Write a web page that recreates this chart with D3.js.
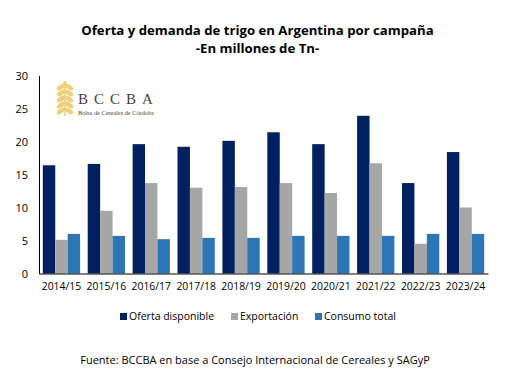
<!DOCTYPE html>
<html>
<head>
<meta charset="utf-8">
<script src="https://cdn.jsdelivr.net/npm/d3@7"></script>
<style>
  body { margin: 0; background: #fff; }
  svg { display: block; font-family: "Open Sans", sans-serif; }
</style>
</head>
<body>
<div class="canvas"></div>
<script>
// Data
const campaigns = ["2014/15", "2015/16", "2016/17", "2017/18", "2018/19", "2019/20", "2020/21", "2021/22", "2022/23", "2023/24"];
const oferta = [16.4, 16.6, 19.6, 19.2, 20.1, 21.4, 19.6, 23.9, 13.7, 18.4];
const exportacion = [5.1, 9.5, 13.7, 13.0, 13.1, 13.7, 12.2, 16.7, 4.5, 10.0];
const consumo = [6.0, 5.7, 5.2, 5.4, 5.4, 5.7, 5.7, 5.7, 6.0, 6.0];
const seriesNames = ["Oferta disponible", "Exportación", "Consumo total"];
const yTicks = [0, 5, 10, 15, 20, 25, 30];

const colors = ["#002060", "#A6A6A6", "#2E75B6"];
const width = 532, height = 370;

const svg = d3.select(".canvas")
    .append("svg")
    .attr("width", width)
    .attr("height", height);

// Scales
const x0 = d3.scaleBand()
    .domain(campaigns)
    .range([39, 488])
    .paddingInner(0.17)
    .paddingOuter(0.085);

const x1 = d3.scaleBand()
    .domain(seriesNames)
    .range([0, x0.bandwidth()]);

const y = d3.scaleLinear()
    .domain([0, 30])
    .range([273.5, 75.5]);

const rows = campaigns.map((c, i) => ({
    campaign: c,
    values: [oferta[i], exportacion[i], consumo[i]]
}));

// Title
svg.append("text")
    .attr("x", 257.5)
    .attr("y", 35)
    .attr("text-anchor", "middle")
    .style("font-size", "13.2px")
    .style("font-weight", "bold")
    .text("Oferta y demanda de trigo en Argentina por campaña");

svg.append("text")
    .attr("x", 257.5)
    .attr("y", 53)
    .attr("text-anchor", "middle")
    .style("font-size", "13.2px")
    .style("font-weight", "bold")
    .text("-En millones de Tn-");

// Logo
const logo = svg.append("g").attr("class", "logo");
const wheat = logo.append("g").attr("transform", "translate(65,99)");
wheat.append("line")
    .attr("x1", 0).attr("y1", -14).attr("x2", 0).attr("y2", 17)
    .attr("stroke", "#EBCB73").attr("stroke-width", 1.5);
[-12, -6, 0, 6, 12].forEach(function (dy) {
    wheat.append("ellipse")
        .attr("cx", -4).attr("cy", dy)
        .attr("rx", 4.8).attr("ry", 2.3)
        .attr("transform", "rotate(-35,-4," + dy + ")")
        .attr("fill", "#EFCF7A");
    wheat.append("ellipse")
        .attr("cx", 4).attr("cy", dy)
        .attr("rx", 4.8).attr("ry", 2.3)
        .attr("transform", "rotate(35,4," + dy + ")")
        .attr("fill", "#EFCF7A");
});
wheat.append("ellipse")
    .attr("cx", 0).attr("cy", -15).attr("rx", 1.8).attr("ry", 3.2)
    .attr("fill", "#EFCF7A");

logo.append("text")
    .attr("x", 78)
    .attr("y", 104)
    .style("font-family", "'Liberation Serif', serif")
    .style("font-size", "15px")
    .style("letter-spacing", "6px")
    .attr("fill", "#4A3F35")
    .text("BCCBA");

logo.append("text")
    .attr("x", 78)
    .attr("y", 115)
    .style("font-family", "'Liberation Serif', serif")
    .style("font-size", "6.3px")
    .attr("fill", "#4A3F35")
    .text("Bolsa de Cereales de Córdoba");

// Bars
const groups = svg.append("g")
    .selectAll("g")
    .data(rows)
    .enter().append("g")
    .attr("transform", d => "translate(" + x0(d.campaign) + ",0)");

groups.selectAll("rect")
    .data(d => d.values.map((v, i) => ({ name: seriesNames[i], value: v, idx: i })))
    .enter().append("rect")
    .attr("x", d => x1(d.name))
    .attr("y", d => y(d.value))
    .attr("width", x1.bandwidth())
    .attr("height", d => y(0) - y(d.value))
    .attr("fill", d => colors[d.idx]);

// Y axis
const yAxis = svg.append("g")
    .attr("transform", "translate(39,0)")
    .call(d3.axisLeft(y).tickValues(yTicks).tickSize(0).tickPadding(11));
yAxis.select(".domain").attr("stroke", "#000");
yAxis.selectAll("text")
    .style("font-family", "'Open Sans', sans-serif")
    .style("font-size", "11px")
    .attr("fill", "#000");

// X axis
const xAxis = svg.append("g")
    .attr("transform", "translate(0," + y(0) + ")")
    .call(d3.axisBottom(x0).tickSize(0).tickPadding(9).tickSizeOuter(0));
xAxis.select(".domain").attr("stroke", "#000");
xAxis.selectAll("text")
    .style("font-family", "'Open Sans', sans-serif")
    .style("font-size", "10.4px")
    .attr("fill", "#000");

// Legend
const legendX = [120, 231, 315];
const legend = svg.append("g")
    .selectAll("g")
    .data(seriesNames)
    .enter().append("g")
    .attr("transform", (d, i) => "translate(" + legendX[i] + ",313)");

legend.append("rect")
    .attr("width", 7)
    .attr("height", 7)
    .attr("fill", (d, i) => colors[i]);

legend.append("text")
    .attr("x", 9)
    .attr("y", 6.5)
    .style("font-size", "10.5px")
    .attr("fill", "#000")
    .text(d => d);

// Source
svg.append("text")
    .attr("x", 255)
    .attr("y", 364)
    .attr("text-anchor", "middle")
    .style("font-size", "11px")
    .attr("fill", "#000")
    .text("Fuente: BCCBA en base a Consejo Internacional de Cereales y SAGyP");
</script>
</body>
</html>
